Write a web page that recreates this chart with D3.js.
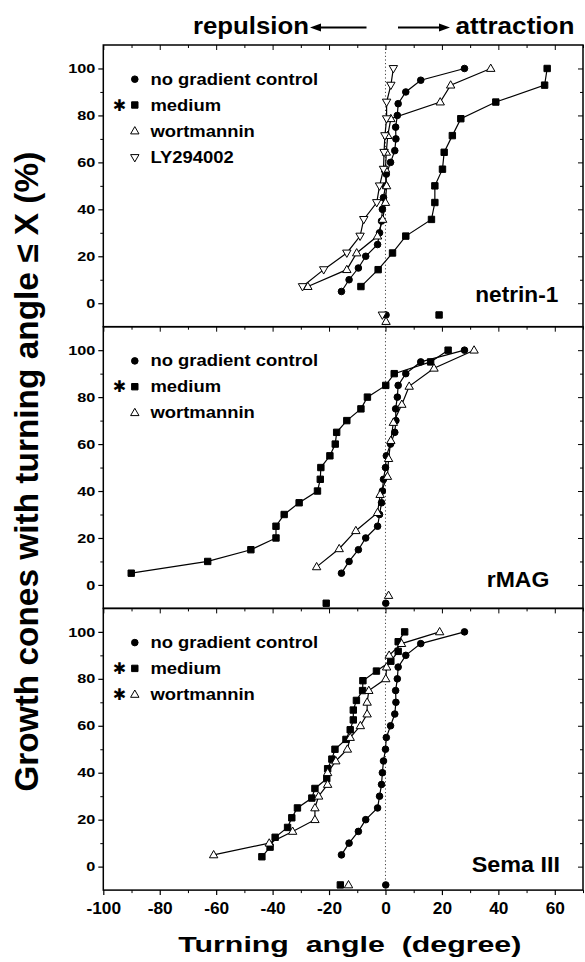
<!DOCTYPE html>
<html><head><meta charset="utf-8">
<script src="https://cdn.jsdelivr.net/npm/d3@7"></script>
<style>
body{margin:0;background:#fff;}
text{font-family:"Liberation Sans",Arial,Helvetica,sans-serif;font-weight:bold;fill:#000;}
</style></head><body>
<svg id="chart" width="585" height="962" xmlns="http://www.w3.org/2000/svg"></svg>
<script>
// ---------------- DATA ----------------
const panelLabels = ["netrin-1", "rMAG", "Sema III"];
const seriesNames = ["no gradient control", "medium", "wortmannin", "LY294002"];
const xTicks = [-100, -80, -60, -40, -20, 0, 20, 40, 60];
const yTicks = [0, 20, 40, 60, 80, 100];

// cumulative percentages
const pct20 = [5,10,15,20,25,30,35,40,45,50,55,60,65,70,75,80,85,90,95,100];
const pct14 = [7.1,14.3,21.4,28.6,35.7,42.9,50,57.1,64.3,71.4,78.6,85.7,92.9,100];
const pct13 = [7.7,15.4,23.1,30.8,38.5,46.2,53.8,61.5,69.2,76.9,84.6,92.3,100];
const pct24 = [4.2,8.3,12.5,16.7,20.8,25,29.2,33.3,37.5,41.7,45.8,50,54.2,58.3,62.5,66.7,70.8,75,79.2,83.3,87.5,91.7,95.8,100];

// no gradient control (same in all three panels)
const controlAngle = [-15.6,-12.9,-9.6,-7.0,-2.8,-2.1,-1.4,-1.1,-0.7,0.0,0.3,1.8,3.3,3.7,3.6,4.2,4.5,7.2,12.5,28.0];
// netrin-1
const netrinMedium = [-8.7,-2.6,2.5,7.2,16.3,17.5,17.5,20.2,20.8,23.7,26.7,39.1,56.4,57.3];
const netrinWort   = [-27.5,-13.7,-10.2,-2.8,-1.0,0.0,0.4,0.0,0.3,0.8,1.9,19.4,23.1,37.3];
const netrinLY     = [-29.4,-21.9,-13.7,-9.0,-7.7,-3.1,-2.1,-0.7,-0.5,-0.2,0.4,0.4,1.9,2.8];
// rMAG
const rmagMedium = [-90.1,-63.0,-47.7,-38.8,-38.8,-35.9,-30.6,-24.1,-23.1,-22.9,-19.7,-17.8,-17.3,-13.7,-8.7,-6.4,0.1,3.1,16.0,22.2];
const rmagWort   = [-24.4,-16.4,-10.5,-2.8,-1.9,0.7,1.1,1.9,2.8,5.8,8.4,17.2,31.4];
// Sema III
const semaMedium = [-43.8,-40.9,-39.1,-34.7,-33.2,-31.2,-26.1,-25.0,-20.8,-20.5,-19.0,-17.9,-14.0,-12.5,-11.4,-11.4,-10.3,-8.1,-8.0,-3.2,1.9,4.5,4.5,6.8];
const semaWort   = [-60.9,-41.2,-32.9,-25.0,-25.0,-23.7,-20.5,-20.5,-17.6,-13.5,-12.5,-8.9,-6.5,-6.5,-5.9,0.1,0.4,1.3,5.7,19.2];

// mean angle markers drawn below 0 % (angle, level)
const netrinMeans = [["no gradient control",0.2,-5],["medium",19.0,-5],["wortmannin",0.2,-7.8],["LY294002",-1.1,-5]];
const rmagMeans   = [["no gradient control",0.1,-7.8],["medium",-21.0,-7.8],["wortmannin",1.1,-4.5]];
const semaMeans   = [["no gradient control",0.1,-7.8],["medium",-16.0,-7.8],["wortmannin",-13.1,-7.8]];

// significance stars in legends
const netrinStars = ["medium"];
const rmagStars = ["medium"];
const semaStars = ["medium","wortmannin"];

// ---------------- LAYOUT ----------------
const X0 = 103.3, X1 = 583;
const TOP = 45, PH = 281.7;
const svg = d3.select("#chart");

const x = d3.scaleLinear().domain([-100, 70]).range([X0, X1]);

const panels = [
  {label: panelLabels[0], lx: 558.3, ly: 256.7, lw: 83,
   series: [[seriesNames[0], controlAngle, pct20], [seriesNames[1], netrinMedium, pct14], [seriesNames[2], netrinWort, pct14], [seriesNames[3], netrinLY, pct14]],
   means: netrinMeans, stars: netrinStars},
  {label: panelLabels[1], lx: 549.3, ly: 260.2, lw: 62.6,
   series: [[seriesNames[0], controlAngle, pct20], [seriesNames[1], rmagMedium, pct20], [seriesNames[2], rmagWort, pct13]],
   means: rmagMeans, stars: rmagStars},
  {label: panelLabels[2], lx: 560, ly: 263.2, lw: 88.3,
   series: [[seriesNames[0], controlAngle, pct20], [seriesNames[1], semaMedium, pct24], [seriesNames[2], semaWort, pct20]],
   means: semaMeans, stars: semaStars}
];

function symbolPath(name) {
  if (name === "no gradient control") return d3.symbol().type(d3.symbolCircle).size(Math.PI * 3.3 * 3.3)();
  if (name === "medium") return "M-3.2,-3.2H3.2V3.2H-3.2Z";
  if (name === "wortmannin") return "M0,-4.4L4.2,2.9H-4.2Z";
  return "M0,4.4L4.2,-2.9H-4.2Z";
}
function symbolFill(name) { return (name === "wortmannin" || name === "LY294002") ? "#fff" : "#000"; }

function stretch(sel, f) {
  sel.each(function () {
    const l = this.getComputedTextLength();
    d3.select(this).attr("textLength", l * f).attr("lengthAdjust", "spacingAndGlyphs");
  });
}

const legendRowY = [34.2, 60, 86, 112.5];

panels.forEach((p, i) => {
  const top = TOP + i * PH, bot = top + PH;
  const y = d3.scaleLinear().domain([-10, 110]).range([bot, top]);
  const g = svg.append("g");

  // zero dotted line
  g.append("line").attr("x1", x(0)).attr("x2", x(0)).attr("y1", top).attr("y2", bot)
    .attr("stroke", "#444").attr("stroke-width", 1).attr("stroke-dasharray", "1.2,2.4");

  // left axis (outward) with labels
  const la = g.append("g").attr("transform", `translate(${X0},0)`)
    .call(d3.axisLeft(y).tickValues(yTicks).tickSize(5).tickPadding(3));
  la.select(".domain").remove();
  la.selectAll("line").attr("stroke-width", 1.2);
  la.selectAll("text").attr("font-size", 13).attr("fill", "#000");
  stretch(la.selectAll("text"), 1.25);
  const lm = g.append("g").attr("transform", `translate(${X0},0)`)
    .call(d3.axisLeft(y).tickValues([10,30,50,70,90]).tickSize(3).tickFormat(""));
  lm.select(".domain").remove();

  // right axis (inward)
  const ra = g.append("g").attr("transform", `translate(${X1},0)`)
    .call(d3.axisLeft(y).tickValues(yTicks).tickSize(5).tickFormat(""));
  ra.select(".domain").remove();
  const rm = g.append("g").attr("transform", `translate(${X1},0)`)
    .call(d3.axisLeft(y).tickValues([10,30,50,70,90]).tickSize(3).tickFormat(""));
  rm.select(".domain").remove();

  // top axis (inward)
  const ta = g.append("g").attr("transform", `translate(0,${top})`)
    .call(d3.axisBottom(x).tickValues(xTicks).tickSize(5).tickFormat(""));
  ta.select(".domain").remove();
  const tm = g.append("g").attr("transform", `translate(0,${top})`)
    .call(d3.axisBottom(x).tickValues([-90,-70,-50,-30,-10,10,30,50,70]).tickSize(3).tickFormat(""));
  tm.select(".domain").remove();

  // frame
  g.append("rect").attr("x", X0).attr("y", top).attr("width", X1 - X0).attr("height", PH)
    .attr("fill", "none").attr("stroke", "#000").attr("stroke-width", 1.5);

  // series lines
  const line = d3.line().x(d => x(d[0])).y(d => y(d[1]));
  p.series.forEach(s => {
    const pts = s[1].map((v, k) => [v, s[2][k]]);
    g.append("path").datum(pts).attr("d", line).attr("fill", "none")
      .attr("stroke", "#000").attr("stroke-width", 1.2);
  });
  // markers
  p.series.forEach(s => {
    const pts = s[1].map((v, k) => [v, s[2][k]]);
    g.selectAll(null).data(pts).enter().append("path")
      .attr("d", symbolPath(s[0]))
      .attr("transform", d => `translate(${x(d[0])},${y(d[1])})`)
      .attr("fill", symbolFill(s[0])).attr("stroke", "#000").attr("stroke-width", 1);
  });
  // mean markers
  g.selectAll(null).data(p.means).enter().append("path")
    .attr("d", d => symbolPath(d[0]))
    .attr("transform", d => `translate(${x(d[1])},${y(d[2])})`)
    .attr("fill", d => symbolFill(d[0])).attr("stroke", "#000").attr("stroke-width", 1);

  // legend
  p.series.forEach((s, k) => {
    const ly = top + legendRowY[k];
    g.append("path").attr("d", symbolPath(s[0])).attr("transform", `translate(134.8,${ly})`)
      .attr("fill", symbolFill(s[0])).attr("stroke", "#000").attr("stroke-width", 1);
    const t = g.append("text").attr("x", 150.5).attr("y", ly + 5.5).attr("font-size", 16).text(s[0]);
    stretch(t, 1.15);
    if (p.stars.includes(s[0])) {
      g.append("text").attr("x", 119.5).attr("y", ly + 5.5).attr("font-size", 16)
        .style("font-family", "'DejaVu Sans', sans-serif")
        .attr("text-anchor", "middle").text("\u2731");
    }
  });

  // panel label
  g.append("text").attr("x", p.lx).attr("y", top + p.ly).attr("font-size", 22)
    .attr("text-anchor", "end").attr("textLength", p.lw).attr("lengthAdjust", "spacingAndGlyphs")
    .text(p.label);

  // bottom axis for last panel
  if (i === panels.length - 1) {
    const ba = g.append("g").attr("transform", `translate(0,${bot})`)
      .call(d3.axisBottom(x).tickValues(xTicks).tickSize(5).tickPadding(3));
    ba.select(".domain").remove();
    ba.selectAll("line").attr("stroke-width", 1.2);
    ba.selectAll("text").attr("font-size", 16).attr("fill", "#000").attr("y", 24).attr("dy", 0)
      .text(d => d);
    stretch(ba.selectAll("text"), 1.08);
    const bm = g.append("g").attr("transform", `translate(0,${bot})`)
      .call(d3.axisBottom(x).tickValues([-90,-70,-50,-30,-10,10,30,50,70]).tickSize(3).tickFormat(""));
    bm.select(".domain").remove();
  }
});

// axis titles
svg.append("text").attr("x", 178.3).attr("y", 952).attr("font-size", 22)
  .style("white-space", "pre").attr("textLength", 343).attr("lengthAdjust", "spacingAndGlyphs")
  .text("Turning  angle  (degree)");
svg.append("text").attr("transform", `translate(37.5,${471.7}) rotate(-90)`)
  .attr("text-anchor", "middle").attr("font-size", 33)
  .attr("textLength", 640).attr("lengthAdjust", "spacingAndGlyphs")
  .text("Growth cones with turning angle \u2264 X (%)");

// header
svg.append("text").attr("x", 193).attr("y", 34).attr("font-size", 24)
  .attr("textLength", 116).attr("lengthAdjust", "spacingAndGlyphs").text("repulsion");
svg.append("text").attr("x", 455.5).attr("y", 34).attr("font-size", 24)
  .attr("textLength", 119).attr("lengthAdjust", "spacingAndGlyphs").text("attraction");
const ay = 27.5;
svg.append("line").attr("x1", 318).attr("x2", 366.5).attr("y1", ay).attr("y2", ay).attr("stroke", "#000").attr("stroke-width", 2.2);
svg.append("path").attr("d", `M310,${ay}L321,${ay - 4}L321,${ay + 4}Z`).attr("fill", "#000");
svg.append("line").attr("x1", 398).attr("x2", 442).attr("y1", ay).attr("y2", ay).attr("stroke", "#000").attr("stroke-width", 2.2);
svg.append("path").attr("d", `M450,${ay}L439,${ay - 4}L439,${ay + 4}Z`).attr("fill", "#000");
</script>
</body></html>
